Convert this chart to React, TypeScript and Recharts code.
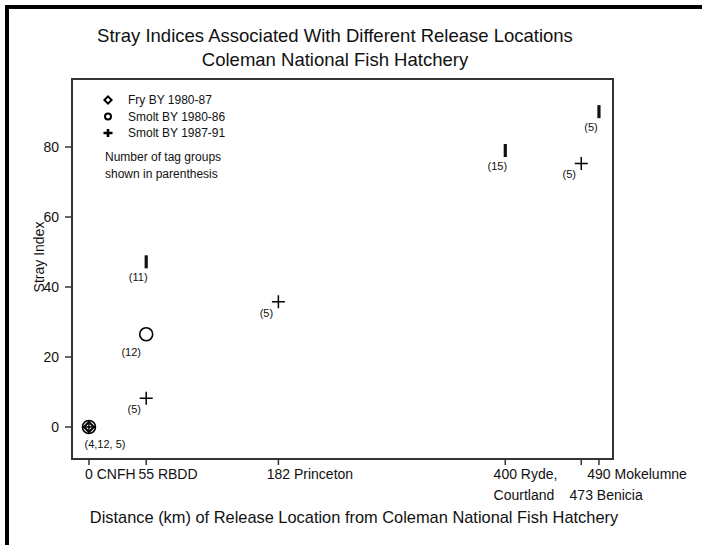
import { ScatterChart, Scatter, XAxis, YAxis, ReferenceArea, Legend, Label } from 'recharts'

const FONT = '"Liberation Sans", Arial, Helvetica, sans-serif'
const AXIS = '#333333'

// distance (km) / stray index / number of tag groups
const fryKm = [0, 55, 400, 490]
const fryIndex = [0, 47.2, 79, 90.1]
const fryGroups = ['', '(11)', '(15)', '(5)']

const smoltEarlyKm = [0, 55]
const smoltEarlyIndex = [0, 26.5]
const smoltEarlyGroups = ['', '(12)']

const smoltLateKm = [0, 55, 182, 473]
const smoltLateIndex = [0, 8.2, 35.8, 75.3]
const smoltLateGroups = ['(4,12, 5)', '(5)', '(5)', '(5)']

const xTicks = [0, 55, 182, 400, 473, 490]
const xTickLines = [
  ['0 CNFH'],
  ['55 RBDD'],
  ['182 Princeton'],
  ['400 Ryde,', 'Courtland'],
  ['', '473 Benicia'],
  ['490 Mokelumne'],
]
const yTicks = [0, 20, 40, 60, 80]

const seriesNames = ['Fry BY 1980-87', 'Smolt BY 1980-86', 'Smolt BY 1987-91']
const noteLines = ['Number of tag groups', 'shown in parenthesis']
const titleLines = ['Stray Indices Associated With Different Release Locations', 'Coleman National Fish Hatchery']

const X_DOMAIN: [number, number] = [-16.3, 503.5]
const Y_DOMAIN: [number, number] = [-9.14, 99.43]

const toPoints = (xs: number[], ys: number[], ns: string[]) =>
  xs.map((x, i) => ({ x, y: ys[i], n: ns[i] }))

const fry = toPoints(fryKm, fryIndex, fryGroups)
const smoltEarly = toPoints(smoltEarlyKm, smoltEarlyIndex, smoltEarlyGroups)
const smoltLate = toPoints(smoltLateKm, smoltLateIndex, smoltLateGroups)

function groupLabel(cx: number, cy: number, n: string, x: number, dx: number, dy: number) {
  if (!n) return null
  // the pooled label at the hatchery sits to the lower right
  const atOrigin = x === 0
  return (
    <text
      x={atOrigin ? cx + 16 : cx + dx}
      y={(atOrigin ? cy + 17 : cy + dy) + 4}
      textAnchor="middle"
      fontSize={11}
      fontFamily={FONT}
      fill="#111"
    >
      {n}
    </text>
  )
}

function FryShape(props: any) {
  const { cx, cy, payload } = props
  return (
    <g>
      {payload.x === 0 ? (
        <path
          d={`M${cx} ${cy - 5}L${cx + 5} ${cy}L${cx} ${cy + 5}L${cx - 5} ${cy}Z`}
          fill="none"
          stroke="#000"
          strokeWidth={2}
        />
      ) : (
        <rect x={cx - 1.6} y={cy - 6.5} width={3.2} height={13} fill="#111" />
      )}
      {groupLabel(cx, cy, payload.n, payload.x, -8, 15)}
    </g>
  )
}

function CircleShape(props: any) {
  const { cx, cy, payload } = props
  return (
    <g>
      <circle cx={cx} cy={cy} r={6.5} fill="none" stroke="#000" strokeWidth={1.6} />
      {groupLabel(cx, cy, payload.n, payload.x, -15, 18)}
    </g>
  )
}

function PlusShape(props: any) {
  const { cx, cy, payload } = props
  return (
    <g>
      <path
        d={`M${cx - 6.5} ${cy}H${cx + 6.5}M${cx} ${cy - 6.5}V${cy + 6.5}`}
        stroke="#000"
        strokeWidth={1.5}
        fill="none"
      />
      {groupLabel(cx, cy, payload.n, payload.x, -12, 11)}
    </g>
  )
}

function XTick(props: any) {
  const { x, y, payload } = props
  const i = xTicks.indexOf(payload.value)
  const lines = xTickLines[i] ?? []
  // keep the km number centred under its tick
  const start = x - String(payload.value).length * 7.78 / 2
  return (
    <g>
      {lines.map((t, k) =>
        t ? (
          <text key={k} x={start} y={y + 12 + k * 21} fontSize={14} fontFamily={FONT} fill="#111">
            {t}
          </text>
        ) : null,
      )}
    </g>
  )
}

function legendSymbol(i: number, cx: number, cy: number) {
  if (i === 0)
    return (
      <path
        d={`M${cx} ${cy - 3.6}L${cx + 3.6} ${cy}L${cx} ${cy + 3.6}L${cx - 3.6} ${cy}Z`}
        fill="none"
        stroke="#000"
        strokeWidth={2}
      />
    )
  if (i === 1) return <circle cx={cx} cy={cy} r={3} fill="none" stroke="#000" strokeWidth={2} />
  return (
    <path d={`M${cx - 4.5} ${cy}H${cx + 4.5}M${cx} ${cy - 4}V${cy + 4}`} stroke="#000" strokeWidth={2.6} />
  )
}

function LegendBox() {
  return (
    <svg width={170} height={100} style={{ display: 'block' }}>
      {seriesNames.map((name, i) => (
        <g key={name}>
          {legendSymbol(i, 13, 12 + i * 16.5)}
          <text x={33} y={16 + i * 16.5} fontSize={12} fontFamily={FONT} fill="#111">
            {name}
          </text>
        </g>
      ))}
      {noteLines.map((t, k) => (
        <text key={t} x={10} y={73 + k * 17} fontSize={12} fontFamily={FONT} fill="#111">
          {t}
        </text>
      ))}
    </svg>
  )
}

export default function App() {
  return (
    <div
      style={{
        position: 'absolute',
        left: 0,
        top: 0,
        width: 702,
        height: 545,
        background: '#fff',
        overflow: 'hidden',
      }}
    >
      <style>{'html,body{margin:0;overflow:hidden}'}</style>
      <div style={{ position: 'absolute', left: 5, top: 5, width: 697, height: 4, background: '#000' }} />
      <div style={{ position: 'absolute', left: 5, top: 5, width: 4, height: 540, background: '#000' }} />
      <svg width={702} height={100} style={{ position: 'absolute', left: 0, top: 0, pointerEvents: 'none' }}>
        {titleLines.map((t, k) => (
          <text key={t} x={335} y={42 + k * 24} textAnchor="middle" fontSize={18.5} fontFamily={FONT} fill="#111">
            {t}
          </text>
        ))}
      </svg>
      <ScatterChart width={702} height={545} margin={{ top: 79, right: 89, bottom: 56, left: 12 }}>
        <ReferenceArea
          x1={X_DOMAIN[0]}
          x2={X_DOMAIN[1]}
          y1={Y_DOMAIN[0]}
          y2={Y_DOMAIN[1]}
          fill="none"
          stroke={AXIS}
          strokeWidth={2}
          ifOverflow="visible"
        />
        <XAxis
          type="number"
          dataKey="x"
          domain={X_DOMAIN}
          ticks={xTicks}
          interval={0}
          height={30}
          tickSize={6}
          tick={<XTick />}
          axisLine={{ stroke: AXIS, strokeWidth: 2 }}
          tickLine={{ stroke: AXIS, strokeWidth: 1.5 }}
          allowDataOverflow
        >
          <Label
            content={() => (
              <text x={354} y={523} textAnchor="middle" fontSize={16.4} fontFamily={FONT} fill="#111">
                Distance (km) of Release Location from Coleman National Fish Hatchery
              </text>
            )}
          />
        </XAxis>
        <YAxis
          type="number"
          dataKey="y"
          domain={Y_DOMAIN}
          ticks={yTicks}
          interval={0}
          width={60}
          tickSize={7}
          tickMargin={6}
          tick={{ fill: '#111', fontSize: 14, fontFamily: FONT }}
          axisLine={{ stroke: AXIS, strokeWidth: 2 }}
          tickLine={{ stroke: AXIS, strokeWidth: 1.5 }}
          allowDataOverflow
        >
          <Label
            content={() => (
              <text
                x={44}
                y={257}
                transform="rotate(-90 44 257)"
                textAnchor="middle"
                fontSize={14}
                fontFamily={FONT}
                fill="#111"
              >
                Stray Index
              </text>
            )}
          />
        </YAxis>
        <Legend
          layout="vertical"
          align="center"
          verticalAlign="middle"
          wrapperStyle={{ left: 95, top: 88, width: 170, height: 100 }}
          content={() => <LegendBox />}
        />
        <Scatter name={seriesNames[0]} data={fry} shape={<FryShape />} isAnimationActive={false} />
        <Scatter name={seriesNames[1]} data={smoltEarly} shape={<CircleShape />} isAnimationActive={false} />
        <Scatter name={seriesNames[2]} data={smoltLate} shape={<PlusShape />} isAnimationActive={false} />
      </ScatterChart>
    </div>
  )
}
